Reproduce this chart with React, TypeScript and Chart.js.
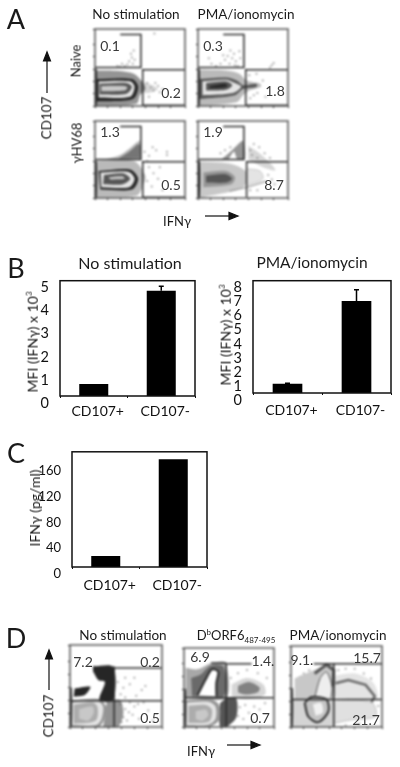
import React, { useEffect, useRef } from "react";
import { Chart, registerables } from "chart.js";

Chart.register(...registerables);

const FONT = "Lato, 'Open Sans', sans-serif";
const INK = "#111";

// ---- bar panels ----
const barCategories = ["CD107+", "CD107-"];
const b1Values = [0.52, 4.56];
const b1Errors = [0, 0.2];
const b1Ticks = [0, 1, 2, 3, 4, 5];
const b2Values = [0.66, 6.56];
const b2Errors = [0.04, 0.8];
const b2Ticks = [0, 1, 2, 3, 4, 5, 6, 7, 8];
const cValues = [17, 167.5];
const cErrors = [0, 0];
const cTicks = [0, 40, 80, 120, 160];

// ---- flow panels: contour polygons in axis units (0-100 on both axes) ----
type P = number[][];
const leftStrip: P = [[0, 0], [2, 0], [2, 48], [0, 48]];
const aGateTop: P = [[28, 93], [51, 93], [51, 50], [0, 50]];
const aGateLow: P = [[100, 47], [53, 47], [53, 1], [100, 1]];
const a4GateLow: P = [[100, 47], [54, 47], [54, 1]];

const a1Tail: P = [[50, 32], [62, 28], [70, 22], [60, 17], [50, 18]];
const a1Halo: P = [[0, 46], [17, 46], [43, 42], [54, 29], [56, 22], [50, 14], [46, 3], [0, 0]];
const a1Dark: P = [[1, 35], [41, 35], [48, 25], [42, 9], [1, 6]];
const a1Ring: P = [[4, 32], [39, 32], [44, 25], [39, 12], [4, 11]];
const a1Inner: P = [[5, 29], [35, 30], [41, 25], [35, 16], [5, 15]];
const a1Core: P = [[7, 26], [33, 26], [36, 24], [33, 20], [7, 19]];
const a1Specks: P = [[41, 63], [38, 58], [36, 54], [40, 68], [43, 72], [33, 52], [30, 55], [44, 60], [28, 51], [42, 55], [58, 30], [62, 24], [65, 20], [72, 18], [67, 30], [60, 12], [70, 26], [75, 22], [66, 94], [25, 52]];

const a2Halo: P = [[0, 47], [31, 46], [46, 42], [54, 33], [69, 29], [70, 25], [57, 20], [50, 14], [43, 5], [0, 0]];
const a2Dark: P = [[1, 35], [31, 37], [43, 33], [50, 27], [65, 29], [65, 25], [50, 22], [41, 14], [1, 9]];
const a2Ring: P = [[5, 32], [31, 34], [41, 30], [48, 25], [39, 17], [5, 14]];
const a2Inner: P = [[9, 30], [31, 32], [38, 27], [31, 21], [9, 20]];
const a2Core: P = [[13, 26], [30, 29], [33, 26], [28, 24], [13, 23]];
const a2Specks: P = [[40, 68], [38, 62], [42, 58], [35, 55], [30, 60], [25, 55], [44, 52], [47, 62], [36, 72], [20, 52], [28, 66], [33, 65], [41, 53], [15, 55], [12, 62], [46, 71], [80, 50], [82, 53], [84, 56], [62, 14], [58, 10], [66, 17], [72, 33], [75, 12], [57, 40], [65, 42]];

const a3Streak: P = [[6, 49], [28, 56], [41, 67], [50, 74], [51, 50]];
const a3StreakCore: P = [[26, 51], [38, 60], [49, 70], [50, 52]];
const a3Halo: P = [[0, 48], [43, 48], [56, 29], [54, 18], [46, 3], [0, 0]];
const a3Dark: P = [[4, 35], [39, 37], [48, 25], [41, 11], [6, 11]];
const a3Ring: P = [[6, 33], [37, 34], [44, 25], [38, 14], [7, 14]];
const a3Inner: P = [[10, 30], [31, 32], [39, 25], [31, 18], [9, 18]];
const a3Core: P = [[15, 27], [31, 28], [33, 25], [17, 24]];
const a3Specks: P = [[55, 60], [60, 55], [68, 62], [80, 56], [80, 60], [60, 40], [65, 32], [70, 25], [58, 22], [63, 15], [72, 40], [58, 48], [64, 66], [53, 30], [75, 10]];

const a4Arc: P = [[56, 68], [66, 60], [78, 48], [86, 36], [72, 40], [56, 50]];
const a4Low: P = [[54, 38], [69, 35], [72, 25], [54, 16]];
const a4Streak: P = [[26, 50], [35, 59], [43, 68], [50, 74], [52, 51], [44, 50], [40, 60], [34, 50]];
const a4Halo: P = [[0, 47], [26, 46], [43, 42], [54, 33], [52, 16], [39, 9], [0, 0]];
const a4Dark: P = [[6, 33], [31, 35], [41, 27], [37, 18], [6, 14]];
const a4Core: P = [[9, 29], [31, 31], [38, 25], [31, 20], [9, 20]];
const a4Tail: P = [[35, 9], [55, 14], [76, 22]];
const a4Specks: P = [[58, 62], [62, 70], [68, 66], [74, 58], [80, 52], [66, 52], [60, 56], [30, 62], [36, 66], [25, 58], [78, 30], [82, 24], [85, 18], [58, 10], [66, 10], [45, 60]];

const d1Gates: P[] = [[[25, 73], [48, 73], [48, 0]], [[48, 72], [100, 72]], [[0, 32], [100, 32]]];
const d1Cloud: P = [[40, 31], [54, 33], [58, 17], [52, 0], [36, 0]];
const d1Main: P = [[0, 32], [31, 34], [39, 25], [37, 9], [31, 0], [0, 0]];
const d1Ring: P = [[2, 30], [29, 32], [36, 25], [34, 9], [28, 2], [2, 2]];
const d1Inner: P = [[4, 27], [25, 30], [30, 24], [28, 8], [4, 4]];
const d1Core: P = [[10, 22], [24, 25], [26, 18], [20, 8], [10, 10]];
const d1Top: P = [[25, 74], [47, 73], [47, 33], [32, 33], [38, 55], [31, 57], [25, 68]];
const d1Blob: P = [[5, 47], [22, 49], [16, 39], [4, 37]];
const d1Specks: P = [[55, 28], [60, 22], [58, 12], [65, 30], [62, 8], [70, 25], [68, 15], [75, 10], [72, 38], [78, 45], [82, 50], [60, 60], [58, 48], [52, 55], [65, 52], [70, 60], [55, 40], [85, 20], [80, 30], [90, 8], [64, 18], [56, 6], [60, 36], [74, 28]];

const d2Gates: P[] = [[[48, 80], [75, 80]], [[47, 81], [47, 0]], [[0, 37], [100, 37]], [[30, 81], [47, 81]]];
const d2Halo: P = [[2, 75], [15, 73], [31, 81], [46, 81], [47, 37], [2, 37]];
const d2Halo2: P = [[8, 62], [18, 66], [30, 78], [44, 76], [44, 39], [9, 39]];
const d2White: P = [[15, 40], [24, 60], [31, 73], [38, 70], [36, 56], [36, 39]];
const d2Cloud: P = [[53, 54], [70, 62], [88, 54], [90, 41], [70, 35], [53, 39]];
const d2Cloud2: P = [[60, 52], [72, 57], [84, 50], [82, 44], [68, 41], [60, 44]];
const d2LowCloud: P = [[47, 37], [58, 36], [58, 12], [47, 0], [40, 0], [40, 30]];
const d2Main: P = [[2, 34], [29, 35], [39, 28], [39, 9], [29, 1], [2, 0]];
const d2Ring: P = [[3, 31], [27, 32], [35, 26], [35, 10], [27, 3], [3, 2]];
const d2Inner: P = [[5, 27], [24, 28], [31, 22], [28, 7], [5, 5]];
const d2Core: P = [[13, 20], [24, 22], [27, 15], [20, 8], [13, 10]];
const d2Specks: P = [[55, 20], [62, 25], [68, 28], [60, 14], [72, 18], [78, 26], [84, 22], [66, 10], [90, 30], [92, 62], [82, 68], [60, 68], [70, 72], [52, 62], [76, 8]];

const d3Gates: P[] = [[[25, 78], [100, 78]], [[47, 78], [47, 0]], [[0, 34], [100, 34]]];
const d3TopHalo: P = [[4, 60], [25, 70], [45, 77], [47, 34], [4, 34]];
const d3White: P = [[26, 36], [32, 60], [39, 68], [45, 50], [44, 36]];
const d3Arch: P = [[26, 66], [39, 77], [47, 70], [46, 50]];
const d3RightHalo: P = [[49, 64], [71, 66], [91, 54], [94, 34], [49, 36]];
const d3Arc: P = [[49, 54], [63, 58], [82, 52], [92, 38], [85, 23]];
const d3Low: P = [[0, 34], [47, 34], [47, 0], [0, 0]];
const d3LowRight: P = [[49, 34], [89, 30], [93, 13], [67, 9], [49, 5]];
const d3Ring: P = [[15, 30], [23, 37], [39, 34], [41, 19], [30, 6], [19, 13], [15, 30]];
const d3Core: P = [[24, 28], [33, 30], [35, 18], [27, 14]];
const d3Specks: P = [[52, 70], [60, 72], [70, 72], [80, 66], [88, 60], [92, 46], [14, 66], [10, 62], [20, 70], [96, 26], [90, 20], [60, 2], [75, 4]];

// ---- styling, separate from the values ----
const S = { faint: "rgba(120,120,120,0.3)", soft: "#c8c8c8", pale: "#e4e4e4", mid: "#959595", deep: "#555", dark: "#262626", haze: "rgba(60,60,60,0.55)", cloud: "rgba(90,90,90,0.42)" };

type Layer = { pts: P; fill?: string; line?: string; width?: number };
const f = (pts: P, fill: string, line?: string, width?: number): Layer => ({ pts, fill, line, width });
const g = (pts: P, line = "#2b2b2b", width = 1.5): Layer => ({ pts, line, width });

const flowPanels = [
  { box: [95, 29, 90, 77], specks: a1Specks, layers: [f(a1Tail, S.faint), f(a1Halo, S.haze), f(a1Dark, S.dark), f(a1Ring, S.pale), f(a1Inner, S.deep), f(a1Core, S.soft), f(leftStrip, S.dark), g(aGateTop), g(aGateLow)] },
  { box: [198, 29, 90, 77], specks: a2Specks, layers: [f(a2Halo, S.cloud), f(a2Dark, S.deep), f(a2Ring, S.pale), f(a2Inner, S.deep), f(a2Core, S.dark), f(leftStrip, S.dark), g(aGateTop), g(aGateLow)] },
  { box: [95, 121, 90, 77], specks: a3Specks, layers: [f(a3Streak, S.cloud), f(a3StreakCore, S.haze), f(a3Halo, S.cloud), f(a3Dark, S.dark), f(a3Ring, S.pale), f(a3Inner, S.deep), f(a3Core, S.soft), f(leftStrip, S.dark), g(aGateTop), g(aGateLow)] },
  { box: [198, 121, 90, 77], specks: a4Specks, layers: [f(a4Arc, S.faint), f(a4Low, S.pale, S.soft, 1), f(a4Halo, S.soft), f(a4Streak, S.mid), f(a4Dark, S.mid), f(a4Core, S.deep), f(leftStrip, "#000"), g(a4Tail, S.mid, 1.2), g(aGateTop), g(a4GateLow)] },
  { box: [70, 645, 92, 82], specks: d1Specks, layers: [f(d1Cloud, S.haze), f(d1Main, S.mid), f(d1Ring, S.pale), f(d1Inner, "#acacac"), f(d1Core, S.soft), f(d1Top, S.dark), f(d1Blob, S.dark), f(leftStrip, S.dark), ...d1Gates.map((p) => g(p))] },
  { box: [184, 648, 90, 79], specks: d2Specks, layers: [f(d2Halo, "#a8a8a8"), f(d2Halo2, "#6a6a6a"), f(d2White, "#fff", S.dark, 2), f(d2Cloud, S.faint), f(d2Cloud2, S.haze), f(d2LowCloud, S.deep), f(d2Main, S.mid), f(d2Ring, S.pale), f(d2Inner, "#acacac"), f(d2Core, S.soft), f(leftStrip, S.dark), ...d2Gates.map((p) => g(p))] },
  { box: [291, 646, 91, 81], specks: d3Specks, layers: [f(d3TopHalo, S.soft), f(d3White, "#eeeeee", S.deep, 1), g(d3Arch, S.deep, 3), f(d3RightHalo, S.pale), g(d3Arc, "#6a6a6a", 2.5), f(d3Low, "#d4d4d4"), f(d3LowRight, "#e0e0e0", "#c0c0c0", 1), f(d3Ring, "#c4c4c4", "#333", 2), f(d3Core, "#f1f1f1"), f(leftStrip, S.dark), ...d3Gates.map((p) => g(p))] },
];

const framePlugin = {
  id: "frame",
  afterDraw(chart: any, _a: any, opts: any) {
    const { ctx, chartArea: a } = chart;
    ctx.save();
    ctx.strokeStyle = opts.color || INK;
    ctx.lineWidth = opts.width || 1.5;
    ctx.strokeRect(a.left, a.top, a.right - a.left, a.bottom - a.top);
    ctx.restore();
  },
};

const errorPlugin = {
  id: "errors",
  afterDatasetsDraw(chart: any, _a: any, opts: any) {
    const errors: number[] = opts.values || [];
    const vals = chart.data.datasets[0].data;
    const meta = chart.getDatasetMeta(0);
    const { ctx, scales } = chart;
    ctx.save();
    ctx.strokeStyle = "#000";
    ctx.lineWidth = 1.5;
    errors.forEach((e, i) => {
      if (!e) return;
      const x = meta.data[i].x;
      const top = scales.y.getPixelForValue(vals[i] + e);
      const base = scales.y.getPixelForValue(vals[i]);
      ctx.beginPath();
      ctx.moveTo(x, base);
      ctx.lineTo(x, top);
      ctx.moveTo(x - 2.5, top);
      ctx.lineTo(x + 2.5, top);
      ctx.stroke();
    });
    ctx.restore();
  },
};

function BarPanel({ box, axisW, values, errors, ticks, max, tickFont, xPad }: any) {
  const ref = useRef<HTMLCanvasElement>(null);
  // box = plot area [left, top, width, height]
  const [l, t, w, h] = box;
  const xH = 28;
  useEffect(() => {
    const chart = new Chart(ref.current!, {
      type: "bar",
      data: { labels: barCategories, datasets: [{ data: values, backgroundColor: "#000", barPercentage: 0.43, categoryPercentage: 1 }] },
      plugins: [framePlugin, errorPlugin],
      options: {
        animation: false,
        responsive: false,
        layout: { autoPadding: false, padding: { top: 2, right: 2, left: 0, bottom: 0 } },
        plugins: { legend: { display: false }, tooltip: { enabled: false }, frame: {}, errors: { values: errors } } as any,
        scales: {
          x: {
            border: { display: false },
            grid: { drawOnChartArea: false, tickLength: 2, color: INK },
            ticks: { color: INK, font: { family: FONT, size: 14 }, padding: xPad, labelOffset: 4, maxRotation: 0 },
            afterFit: (s: any) => { s.height = xH; },
          },
          y: {
            min: 0,
            max,
            border: { display: false },
            grid: { display: false },
            afterBuildTicks: (s: any) => { s.ticks = ticks.map((value: number) => ({ value })); },
            ticks: { color: INK, font: { family: FONT, size: tickFont }, padding: 3, labelOffset: 7, autoSkip: false },
            afterFit: (s: any) => { s.width = axisW; },
          },
        },
      } as any,
    });
    return () => chart.destroy();
  }, []);
  return <canvas ref={ref} width={axisW + w + 2} height={h + xH + 2} style={{ position: "absolute", left: l - axisW, top: t - 2, filter: "blur(0.35px)" }} />;
}

function FlowPanel({ box, layers, specks }: any) {
  const ref = useRef<HTMLCanvasElement>(null);
  const [l, t, w, h] = box;
  const m = 3;
  useEffect(() => {
    const toXY = (p: P) => p.map(([x, y]) => ({ x, y }));
    const datasets: any[] = layers.map((L: Layer, i: number) => ({
      data: toXY(L.pts),
      showLine: true,
      pointRadius: 0,
      tension: L.fill ? 0.3 : 0,
      fill: L.fill ? "shape" : false,
      backgroundColor: L.fill || "transparent",
      borderColor: L.line || "transparent",
      borderWidth: L.line ? L.width || 1 : 0,
      order: -i,
    }));
    datasets.push({ data: toXY(specks), showLine: false, pointRadius: 1, pointBorderWidth: 0, pointBackgroundColor: "rgba(70,70,70,0.55)", order: 5 });
    const chart = new Chart(ref.current!, {
      type: "scatter",
      data: { datasets },
      plugins: [framePlugin],
      options: {
        animation: false,
        responsive: false,
        layout: { autoPadding: false, padding: { top: m, right: m, left: 0, bottom: 0 } },
        plugins: { legend: { display: false }, tooltip: { enabled: false }, frame: { color: "#555", width: 1.5 } } as any,
        scales: {
          x: { min: 0, max: 100, border: { display: false }, grid: { drawOnChartArea: false, tickLength: 2, color: "#222" }, ticks: { display: false, stepSize: 14 }, afterFit: (s: any) => { s.height = m; } },
          y: { min: 0, max: 100, border: { display: false }, grid: { drawOnChartArea: false, tickLength: 2, color: "#222" }, ticks: { display: false, stepSize: 16 }, afterFit: (s: any) => { s.width = m; } },
        },
      } as any,
    });
    return () => chart.destroy();
  }, []);
  return <canvas ref={ref} width={w + 2 * m} height={h + 2 * m} style={{ position: "absolute", left: l - m, top: t - m, filter: "blur(0.8px)" }} />;
}

function T({ x, y, s = 13, r = 0, c = "#1a1a1a", children }: any) {
  return (
    <div style={{ position: "absolute", left: x, top: y, transform: `translate(-50%,-50%) rotate(${r}deg)`, fontFamily: FONT, fontSize: s, lineHeight: 1, color: c, whiteSpace: "nowrap", filter: "blur(0.3px)" }}>
      {children}
    </div>
  );
}

const gatePercents: [string, number, number][] = [
  ["0.1", 110, 46], ["0.2", 171, 93], ["0.3", 213, 46], ["1.8", 275, 91],
  ["1.3", 110, 132], ["0.5", 171, 185], ["1.9", 213, 132], ["8.7", 274, 185],
  ["7.2", 83, 662], ["0.2", 150, 662], ["0.5", 150, 718],
  ["6.9", 200, 657], ["1.4.", 263, 661], ["0.7", 260, 718],
  ["9.1.", 302, 660], ["15.7", 367, 658], ["21.7", 366, 720],
];

export default function App() {
  return (
    <div style={{ position: "absolute", left: 0, top: 0, width: 400, height: 767, overflow: "hidden", background: "#fff" }}>
      {flowPanels.map((p, i) => <FlowPanel key={i} {...p} />)}
      <BarPanel box={[60, 271, 135, 125]} axisW={40} values={b1Values} errors={b1Errors} ticks={b1Ticks} max={5} tickFont={14.5} xPad={5} />
      <BarPanel box={[253, 271, 138, 122]} axisW={40} values={b2Values} errors={b2Errors} ticks={b2Ticks} max={8} tickFont={14.5} xPad={7} />
      <BarPanel box={[72, 443, 135, 124]} axisW={49} values={cValues} errors={cErrors} ticks={cTicks} max={179} tickFont={13} xPad={8} />

      {gatePercents.map(([t, x, y], i) => <T key={i} x={x} y={y} s={14} c="#3a3a3a">{t}</T>)}

      <T x={16} y={18} s={27}>A</T>
      <T x={16} y={267} s={27}>B</T>
      <T x={16} y={452} s={27}>C</T>
      <T x={16} y={637} s={27}>D</T>

      <T x={136} y={15} s={13.5}>No stimulation</T>
      <T x={246} y={15} s={13.5}>PMA/ionomycin</T>
      <T x={76} y={61} s={13} r={-90}>Naive</T>
      <T x={77} y={143} s={13} r={-90}>γHV68</T>
      <T x={47} y={118} s={13.5} r={-90}>CD107</T>
      <T x={177} y={221} s={13}>IFNγ</T>

      <T x={130} y={263} s={16}>No stimulation</T>
      <T x={312} y={263} s={15.5}>PMA/ionomycin</T>
      <T x={32} y={342} s={14} r={-90}>MFI (IFNγ) x 10<sup style={{ fontSize: 8 }}>3</sup></T>
      <T x={225} y={335} s={14} r={-90}>MFI (IFNγ) x 10<sup style={{ fontSize: 8 }}>3</sup></T>

      <T x={35} y={508} s={14} r={-90}>IFNγ (pg/ml)</T>

      <T x={123} y={636} s={13.5}>No stimulation</T>
      <T x={236} y={636} s={13}>D<sup style={{ fontSize: 8 }}>b</sup>ORF6<sub style={{ fontSize: 8 }}>487-495</sub></T>
      <T x={338} y={636} s={13.5}>PMA/ionomycin</T>
      <T x={49} y={716} s={13.5} r={-90}>CD107</T>
      <T x={201} y={751} s={13}>IFNγ</T>

      <svg width={400} height={767} style={{ position: "absolute", left: 0, top: 0 }}>
        <g stroke="#111" strokeWidth={1.2} fill="#111">
          <line x1={47} y1={93} x2={47} y2={60} />
          <polygon points="47,52 43.5,61 50.5,61" />
          <line x1={205} y1={216} x2={230} y2={216} />
          <polygon points="238,216 229,212.5 229,219.5" />
          <line x1={49} y1={690} x2={49} y2={658} />
          <polygon points="49,650 45.5,659 52.5,659" />
          <line x1={227} y1={745} x2={252} y2={745} />
          <polygon points="260,745 251,741.5 251,748.5" />
        </g>
      </svg>
    </div>
  );
}
